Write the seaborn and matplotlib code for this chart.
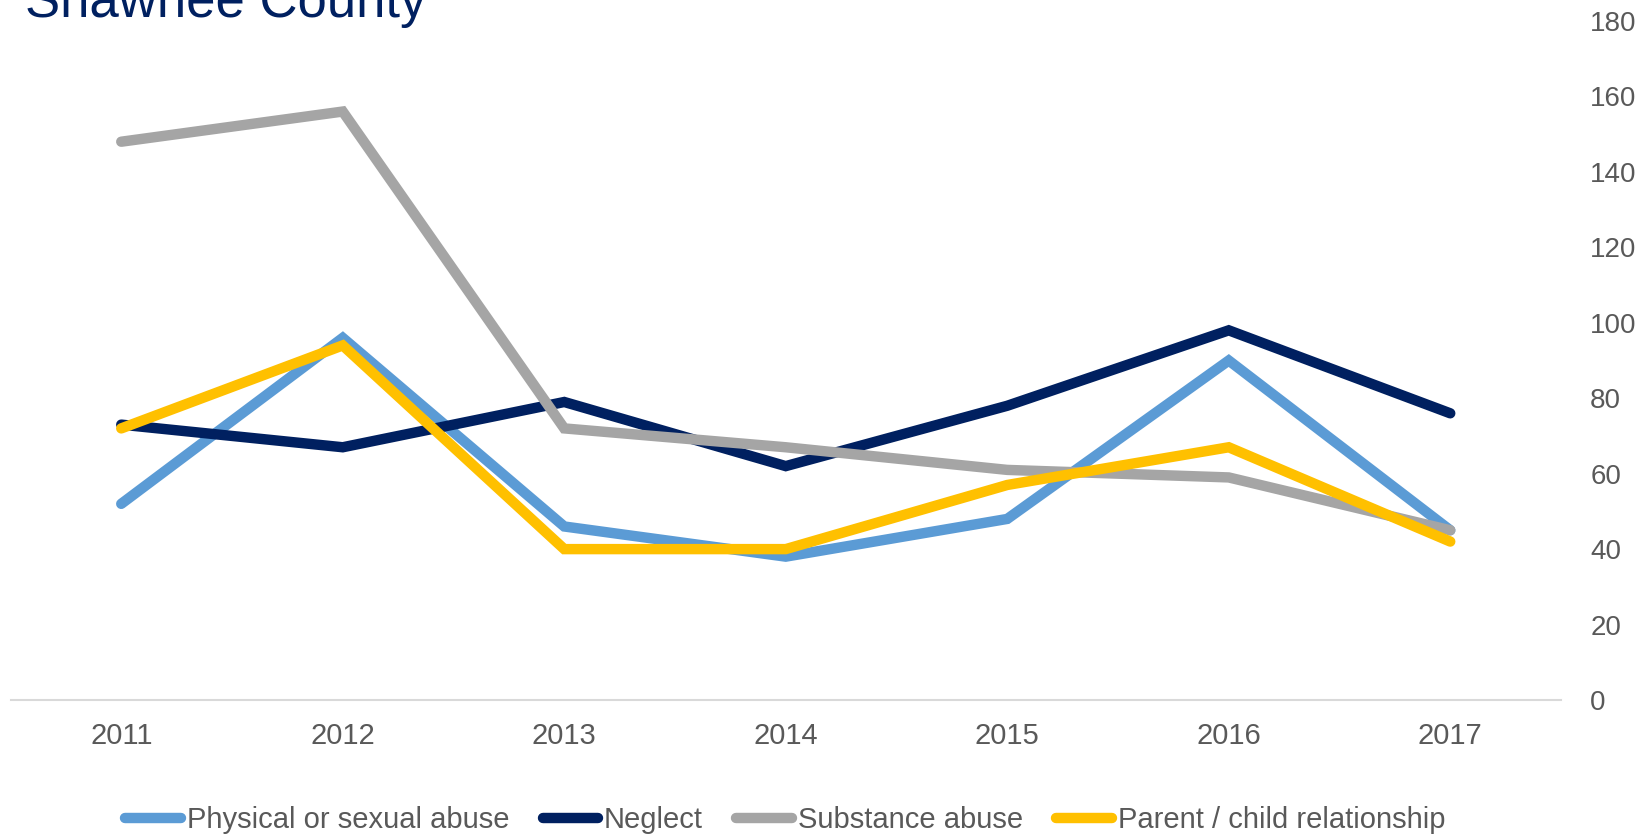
import matplotlib
matplotlib.use("Agg")
import matplotlib.pyplot as plt
import seaborn as sns
import pandas as pd
from matplotlib.lines import Line2D

years = ["2011", "2012", "2013", "2014", "2015", "2016", "2017"]
physical = [52, 96, 46, 38, 48, 90, 45]
neglect = [73, 67, 79, 62, 78, 98, 76]
substance = [148, 156, 72, 67, 61, 59, 45]
parent_child = [72, 94, 40, 40, 57, 67, 42]

series_names = ["Physical or sexual abuse", "Neglect", "Substance abuse", "Parent / child relationship"]
series_values = [physical, neglect, substance, parent_child]
colors = ["#5B9BD5", "#002060", "#A5A5A5", "#FFC000"]
title = "Shawnee County"

rows = []
for name, vals in zip(series_names, series_values):
    for y, v in zip(years, vals):
        rows.append({"Year": y, "Value": v, "Series": name})
df = pd.DataFrame(rows)

sns.set_theme(style="white")
plt.rcParams["font.family"] = ["Liberation Sans", "DejaVu Sans"]

fig = plt.figure(figsize=(16.51, 8.35), dpi=100)
ax = fig.add_axes([10.5 / 1651, 135 / 835, (1561 - 10.5) / 1651, (700 - 21) / 835])

lw = 7.5
sns.lineplot(data=df, x="Year", y="Value", hue="Series", hue_order=series_names,
             palette=colors, linewidth=lw, ax=ax, legend=False, sort=False)
for line in ax.lines:
    line.set_solid_capstyle("round")
    line.set_solid_joinstyle("miter")

ax.set_xlim(-0.5, 6.5)
ax.set_ylim(0, 180)
ax.set_yticks(range(0, 181, 20))
ax.yaxis.tick_right()
ax.set_xlabel("")
ax.set_ylabel("")
for s in ["top", "left", "right"]:
    ax.spines[s].set_visible(False)
ax.spines["bottom"].set_color("#D9D9D9")
ax.spines["bottom"].set_linewidth(1.5)
ax.tick_params(axis="y", length=0, pad=21, labelsize=20, labelcolor="#595959")
ax.tick_params(axis="x", length=0, pad=16, labelsize=21, labelcolor="#595959")
for lab in ax.get_yticklabels():
    lab.set_horizontalalignment("left")
ax.grid(False)

fig.text(25 / 1651, 1 - 17 / 835, title, fontsize=38, color="#002060",
         ha="left", va="baseline")

handles = [Line2D([0], [0], color=c, linewidth=lw, solid_capstyle="round") for c in colors]
leg = fig.legend(handles, series_names, loc="center", bbox_to_anchor=(0.4756, 1 - 820 / 835),
                 ncol=4, frameon=False, fontsize=21, handlelength=1.9, handletextpad=0.2,
                 columnspacing=1.15)
for t in leg.get_texts():
    t.set_color("#595959")

fig.savefig("out.png", dpi=100)
